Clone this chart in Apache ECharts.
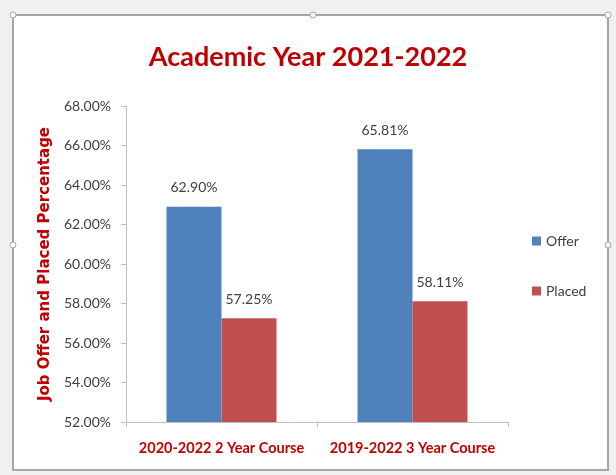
<!DOCTYPE html>
<html><head><meta charset="utf-8">
<script src="https://cdn.jsdelivr.net/npm/echarts@6/dist/echarts.min.js"></script>
<style>html,body{margin:0;padding:0;background:#f0f0f0;}#c{width:616px;height:475px;}</style>
</head><body><div id="c"></div>
<script>
const categories = ['2020-2022 2 Year Course', '2019-2022 3 Year Course'];
const offerValues = [62.90, 65.81];
const placedValues = [57.25, 58.11];
const seriesNames = ['Offer', 'Placed'];
const yMin = 52, yMax = 68, yStep = 2;

const chart = echarts.init(document.getElementById('c'), null, {renderer: 'canvas'});
const gray = '#404040';
const red = '#c00000';
const lbl = {show: true, position: 'top', distance: 12, color: gray, fontSize: 14, fontFamily: 'Lato, sans-serif',
  formatter: p => p.value.toFixed(2) + '%'};
chart.setOption({
  backgroundColor: '#f0f0f0',
  animation: false,
  graphic: [
    {type: 'rect', shape: {x: 13, y: 15, width: 595, height: 455}, style: {fill: '#ffffff', stroke: '#a6a6a6', lineWidth: 2}, z: -10},
    {type: 'circle', shape: {cx: 13, cy: 15, r: 3}, style: {fill: '#fff', stroke: '#a6a6a6', lineWidth: 1}, z: -9},
    {type: 'circle', shape: {cx: 313, cy: 15, r: 3}, style: {fill: '#fff', stroke: '#a6a6a6', lineWidth: 1}, z: -9},
    {type: 'circle', shape: {cx: 608, cy: 15, r: 3}, style: {fill: '#fff', stroke: '#a6a6a6', lineWidth: 1}, z: -9},
    {type: 'circle', shape: {cx: 13, cy: 245, r: 3}, style: {fill: '#fff', stroke: '#a6a6a6', lineWidth: 1}, z: -9},
    {type: 'circle', shape: {cx: 608, cy: 245, r: 3}, style: {fill: '#fff', stroke: '#a6a6a6', lineWidth: 1}, z: -9}
  ],
  title: {text: 'Academic Year 2021-2022', left: 'center', top: 39,
    textStyle: {color: red, fontSize: 27, fontWeight: 'bold', fontFamily: 'Lato, sans-serif'}},
  legend: {orient: 'vertical', left: 527, top: 229, itemGap: 36, itemWidth: 9, itemHeight: 9, icon: 'rect',
    data: seriesNames,
    textStyle: {color: gray, fontSize: 14, fontFamily: 'Lato, sans-serif'}},
  grid: {left: 126, right: 108, top: 106, bottom: 53},
  xAxis: {type: 'category', data: categories,
    axisLine: {lineStyle: {color: '#bfbfbf'}},
    axisTick: {show: true, alignWithLabel: false, length: 5, lineStyle: {color: '#bfbfbf'}},
    axisLabel: {interval: 0, color: red, fontWeight: 'bold', fontSize: 14.5, margin: 19, fontFamily: 'Lato, sans-serif'}},
  yAxis: {type: 'value', min: yMin, max: yMax, interval: yStep,
    name: 'Job Offer and Placed Percentage', nameLocation: 'middle', nameGap: 73, nameRotate: 90,
    nameTextStyle: {color: red, fontWeight: 'bold', fontSize: 15, fontFamily: 'DejaVu Sans, sans-serif'},
    axisLine: {show: true, lineStyle: {color: '#bfbfbf'}},
    axisTick: {show: true, length: 5, lineStyle: {color: '#bfbfbf'}},
    splitLine: {show: false},
    axisLabel: {color: gray, fontSize: 14, margin: 15, fontFamily: 'Lato, sans-serif',
      formatter: v => v.toFixed(2) + '%'}},
  series: [
    {name: seriesNames[0], type: 'bar', data: offerValues, barWidth: 55, barGap: '0%', itemStyle: {color: '#4f81bd'}, label: lbl},
    {name: seriesNames[1], type: 'bar', data: placedValues, barWidth: 55, barGap: '0%', itemStyle: {color: '#c0504d'}, label: lbl}
  ]
});
</script></body></html>
